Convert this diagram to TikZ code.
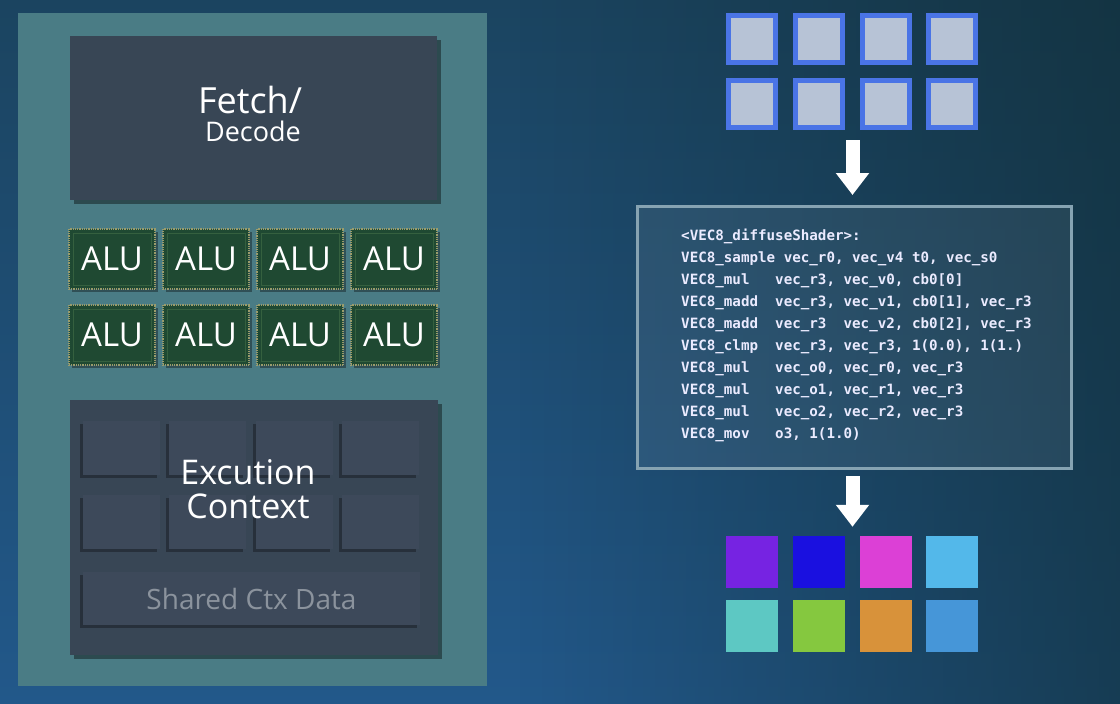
\documentclass[tikz,border=0pt]{standalone}
\usepackage{fontspec}
\setmainfont{Open Sans}
\setmonofont{DejaVu Sans Mono}
\usetikzlibrary{arrows.meta, calc, positioning, shadows, fadings}
\definecolor{bgtop}{HTML}{1B4460}
\definecolor{bgbottom}{HTML}{22588A}
\definecolor{bgdark}{HTML}{0F2A30}
\definecolor{panel}{HTML}{4A7C85}
\definecolor{slate}{HTML}{384655}
\definecolor{cellgray}{HTML}{3D495A}
\definecolor{chipgreen}{HTML}{1F4932}
\definecolor{chipline}{HTML}{35603F}
\definecolor{chippins}{HTML}{9A9C6C}
\definecolor{squareblue}{HTML}{4A74E6}
\definecolor{squarefill}{HTML}{B7C3D6}
\definecolor{codeframe}{HTML}{86A3B2}
\definecolor{ctxtext}{HTML}{8B939D}
\definecolor{outA}{HTML}{7623E2}
\definecolor{outB}{HTML}{1A10E0}
\definecolor{outC}{HTML}{DC40D6}
\definecolor{outD}{HTML}{53B8EA}
\definecolor{outE}{HTML}{5DC8C3}
\definecolor{outF}{HTML}{85C83F}
\definecolor{outG}{HTML}{D8923A}
\definecolor{outH}{HTML}{4696D8}
\tikzfading[name=fadeleft, left color=transparent!100, right color=transparent!0]
\tikzset{
  block/.style={fill=slate, inner sep=0pt,
    drop shadow={shadow xshift=4pt, shadow yshift=-4pt, fill=black, opacity=0.4}},
  cell/.style={fill=cellgray, inner sep=0pt, minimum width=77pt, minimum height=54pt,
    drop shadow={shadow xshift=-3pt, shadow yshift=-3pt, fill=black, opacity=0.3}},
  alu/.style={fill=chipgreen, draw=chippins, line width=2pt, dash pattern=on 1pt off 0.8pt,
    minimum width=86pt, minimum height=60pt, inner sep=0pt, text=white,
    font=\fontsize{33}{33}\selectfont,
    drop shadow={shadow xshift=3pt, shadow yshift=-3pt, fill=black, opacity=0.35}},
  insq/.style={fill=squarefill, draw=squareblue, line width=5pt, minimum size=47pt, inner sep=0pt},
  outsq/.style={minimum size=52pt, inner sep=0pt},
  blockarrow/.style={draw=white, line width=14pt, -{Triangle[width=32pt,length=22pt]}},
}
\begin{document}
\begin{tikzpicture}[x=1pt, y=-1pt]
  \useasboundingbox (0,0) rectangle (1120,704);
  % Background
  \shade[top color=bgtop, bottom color=bgbottom] (0,0) rectangle (1120,704);
  \fill[bgdark, opacity=0.6, path fading=fadeleft] (520,0) rectangle (1120,704);

  % Core
  \node[fill=panel, minimum width=469pt, minimum height=673pt, inner sep=0pt] (panel) at (252.5,349.5) {};
  \node[block, minimum width=367pt, minimum height=164pt] (fetch) at (253.5,118) {};
  \node[text=white, font=\fontsize{36}{36}\selectfont] (fetchtxt) at (250,100) {Fetch/};
  \node[text=white, font=\fontsize{27}{27}\selectfont] (decodetxt) at (253,131) {Decode};

  \foreach \r/\y in {1/259, 2/335}
    \foreach \c/\x in {1/112, 2/206, 3/300, 4/394}
    {
      \node[alu] (alu-\r-\c) at (\x,\y) {ALU};
      \draw[chipline, line width=1pt]
        ([shift={(5pt,-5pt)}]alu-\r-\c.north west) rectangle ([shift={(-5pt,5pt)}]alu-\r-\c.south east);
    }

  \node[block, minimum width=368pt, minimum height=255pt] (ctx) at (254,527.5) {};
  \foreach \r/\y in {1/448, 2/522}
    \foreach \c/\x in {1/121.5, 2/207, 3/294, 4/380}
      \node[cell] (cell-\r-\c) at (\x,\y) {};
  \node[cell, minimum width=337pt, minimum height=53pt] (shared) at (251.5,598.5) {};
  \node[text=white, align=center, font=\fontsize{34}{34}\selectfont] (ctxtxt) at (248,489) {Excution\\Context};
  \node[text=ctxtext, font=\fontsize{28}{28}\selectfont] at (shared) {Shared Ctx Data};

  % Input fragments
  \foreach \r/\y in {1/39, 2/104}
    \foreach \c/\x in {1/752, 2/819, 3/886, 4/952}
      \node[insq] (in-\r-\c) at (\x,\y) {};

  % Shader program
  \node[draw=codeframe, line width=3pt, fill=white, fill opacity=0.07,
        minimum width=434pt, minimum height=262pt, inner sep=0pt] (code) at (854,337) {};
  \node[anchor=north west, inner sep=0pt, text=white!92!blue, align=left,
        font=\fontsize{14.2}{22}\selectfont\ttfamily\bfseries] (listing) at (681,229)
  {<VEC8\_diffuseShader>:\\
   VEC8\_sample~vec\_r0,~vec\_v4~t0,~vec\_s0\\
   VEC8\_mul~~~vec\_r3,~vec\_v0,~cb0[0]\\
   VEC8\_madd~~vec\_r3,~vec\_v1,~cb0[1],~vec\_r3\\
   VEC8\_madd~~vec\_r3~~vec\_v2,~cb0[2],~vec\_r3\\
   VEC8\_clmp~~vec\_r3,~vec\_r3,~1(0.0),~1(1.)\\
   VEC8\_mul~~~vec\_o0,~vec\_r0,~vec\_r3\\
   VEC8\_mul~~~vec\_o1,~vec\_r1,~vec\_r3\\
   VEC8\_mul~~~vec\_o2,~vec\_r2,~vec\_r3\\
   VEC8\_mov~~~o3,~1(1.0)};

  % Output fragments
  \foreach \r/\y/\ca/\cb/\cc/\cd in {1/562/outA/outB/outC/outD, 2/626/outE/outF/outG/outH}
  {
    \node[outsq, fill=\ca] (out-\r-1) at (752,\y) {};
    \node[outsq, fill=\cb] (out-\r-2) at (819,\y) {};
    \node[outsq, fill=\cc] (out-\r-3) at (886,\y) {};
    \node[outsq, fill=\cd] (out-\r-4) at (952,\y) {};
  }

  % Arrows
  \coordinate (inbot) at ($(in-2-2.south)!0.5!(in-2-3.south)$);
  \coordinate (codetop) at (inbot |- code.north);
  \coordinate (codebot) at (inbot |- code.south);
  \coordinate (outtop) at (inbot |- out-1-2.north);
  \draw[blockarrow] ([yshift=-10pt]inbot) -- ([yshift=9.5pt]codetop);
  \draw[blockarrow] ([yshift=-6.5pt]codebot) -- ([yshift=9pt]outtop);
\end{tikzpicture}
\end{document}
